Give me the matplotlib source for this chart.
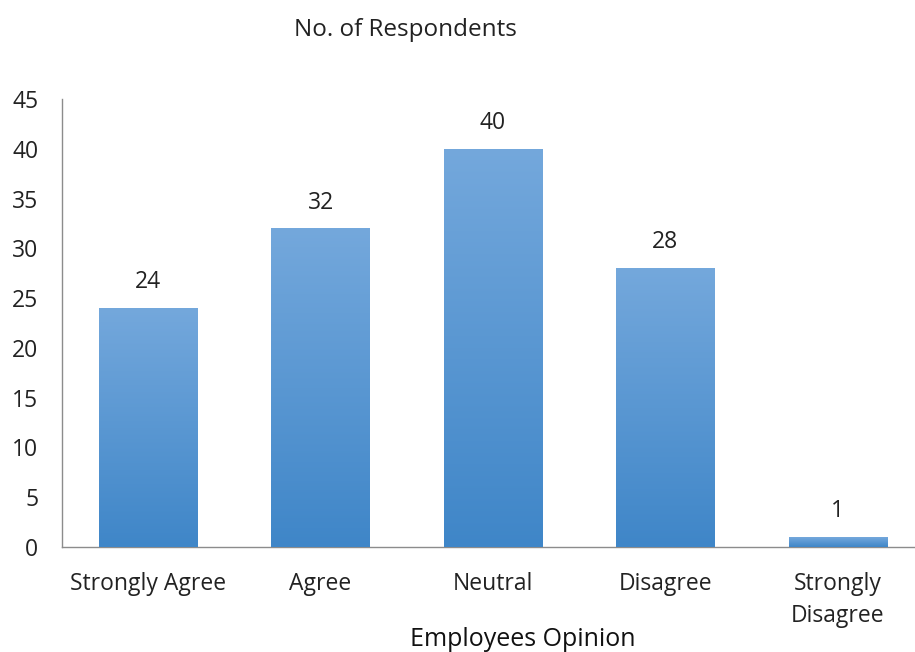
import matplotlib.pyplot as plt
import numpy as np
from matplotlib.colors import LinearSegmentedColormap

# ── Data ──────────────────────────────────────────────────────────────────────
categories = ['Strongly Agree', 'Agree', 'Neutral', 'Disagree', 'Strongly\nDisagree']
respondents = [24, 32, 40, 28, 1]
y_ticks = [0, 5, 10, 15, 20, 25, 30, 35, 40, 45]

plt.rcParams['font.family'] = ['Open Sans', 'DejaVu Sans']

# ── Setup ─────────────────────────────────────────────────────────────────────
fig = plt.figure(figsize=(9.15, 6.52), dpi=100)
# axes run slightly past the right edge, as in the source image
ax = fig.add_axes([62 / 915, 105 / 652, 862 / 915, 448 / 652])

grad = LinearSegmentedColormap.from_list('bar', ['#3f86c8', '#74a8dc'])

x = np.arange(len(categories))
bars = ax.bar(x, respondents, width=0.57, color='#5597d3', zorder=2)

# vertical gradient clipped to each bar
g = np.linspace(0, 1, 256).reshape(-1, 1)
for b in bars:
    x0, y0 = b.get_x(), b.get_y()
    w, h = b.get_width(), b.get_height()
    im = ax.imshow(g, cmap=grad, origin='lower', aspect='auto',
                   extent=(x0, x0 + w, y0, y0 + h), zorder=3)
    im.set_clip_path(b)

for xi, v in zip(x, respondents):
    ax.annotate(str(v), (xi, v), xytext=(0, 10), textcoords='offset points',
                ha='center', va='bottom', fontsize=16.5, color='#222222')

# ── Axes formatting ───────────────────────────────────────────────────────────
ax.set_xlim(-0.5, len(categories) - 0.5)
ax.set_ylim(0, 45)
ax.set_yticks(y_ticks)
ax.set_xticks(x)
ax.set_xticklabels(categories, linespacing=1.45)
ax.tick_params(axis='both', length=0, labelsize=16.5, colors='#222222')
ax.tick_params(axis='x', pad=18)
ax.tick_params(axis='y', pad=17)

for s in ['top', 'right']:
    ax.spines[s].set_visible(False)
for s in ['left', 'bottom']:
    ax.spines[s].set_color('#8c8c8c')
    ax.spines[s].set_linewidth(1.0)

fig.text(405 / 915, 1 - 30 / 652, 'No. of Respondents', ha='center', va='center',
         fontsize=17.5, color='#222222')
fig.text(523 / 915, 1 - 640 / 652, 'Employees Opinion', ha='center', va='center',
         fontsize=18, color='#111111')

plt.savefig('out.png', dpi=100)
